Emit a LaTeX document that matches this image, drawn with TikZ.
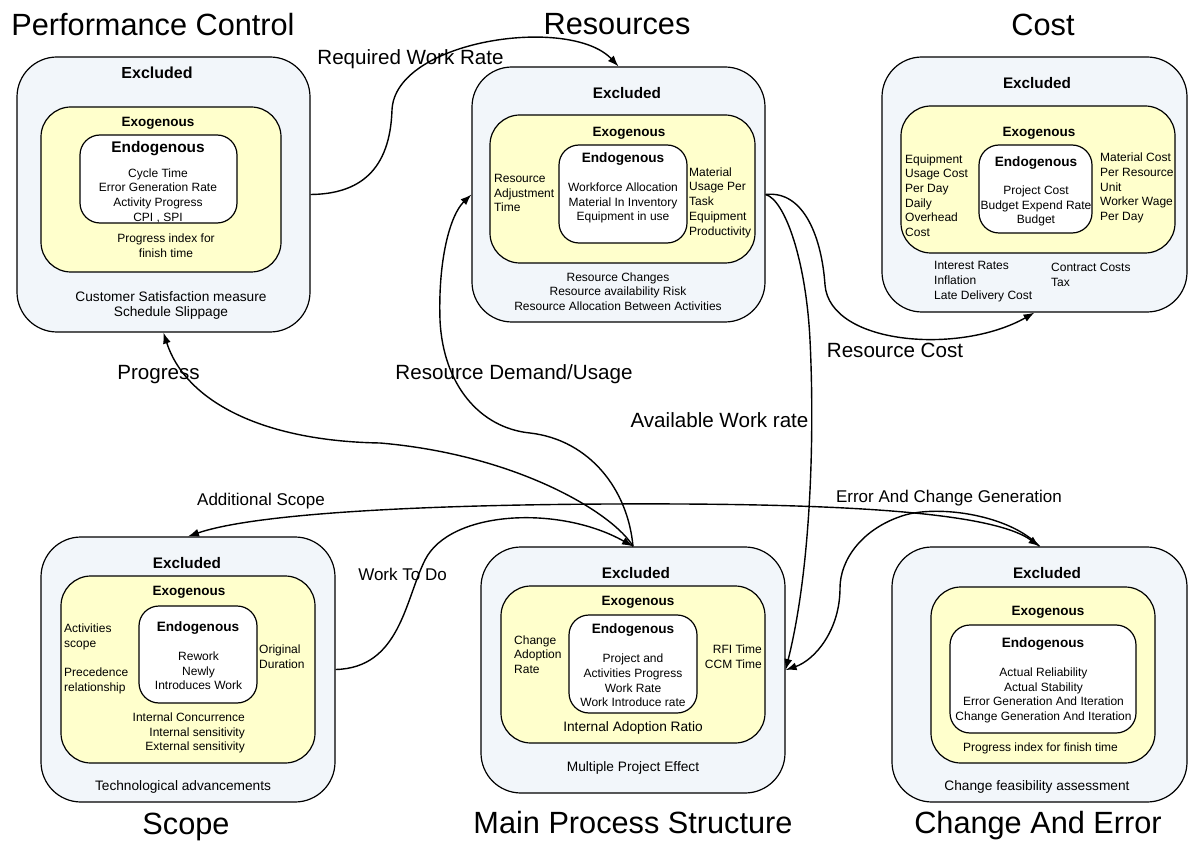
\documentclass[tikz,border=0pt]{standalone}
\usepackage{fontspec}
\setmainfont{Liberation Sans}
\usetikzlibrary{arrows.meta}
\definecolor{outerfill}{RGB}{242,246,250}
\definecolor{exofill}{RGB}{255,255,204}
\begin{document}
\begin{tikzpicture}[x=1pt,y=-1pt,
  box/.style={draw=black, line width=1.2pt, rounded corners=#1, inner sep=0pt, shape=rectangle},
  ob/.style={box=40pt, fill=outerfill},
  yb/.style={box=30pt, fill=exofill},
  wb/.style={box=20pt, fill=white},
  ttl/.style={font=\fontsize{30.7}{36}\selectfont, inner sep=0pt, text height=22pt, text depth=0pt},
  exc/.style={font=\fontsize{15.3}{18}\selectfont\bfseries, inner sep=0pt, text height=11pt, text depth=0pt},
  exo/.style={font=\fontsize{13.5}{16}\selectfont\bfseries, inner sep=0pt, text height=9.7pt, text depth=0pt},
  endo/.style={font=\fontsize{13.6}{16}\selectfont\bfseries, inner sep=0pt, text height=9.75pt, text depth=0pt},
  tx/.style={font=\fontsize{12}{14.7}\selectfont, align=center, inner sep=0pt},
  txl/.style={font=\fontsize{12}{14.7}\selectfont, align=left, anchor=west, inner sep=0pt},
  txr/.style={font=\fontsize{12}{14.7}\selectfont, align=right, anchor=east, inner sep=0pt},
  txb/.style={font=\fontsize{13.7}{15}\selectfont, align=center, inner sep=0pt},
  lbl/.style={font=\fontsize{20.6}{24}\selectfont, inner sep=0pt, text height=14.75pt, text depth=0pt},
  slbl/.style={font=\fontsize{17}{20}\selectfont, inner sep=0pt, text height=12.2pt, text depth=0pt},
  conn/.style={line width=1.4pt, -{Latex[length=11pt,width=8pt]}},
  conn2/.style={line width=1.4pt, {Latex[length=11pt,width=8pt]}-{Latex[length=11pt,width=8pt]}}
]
\useasboundingbox (0,0) rectangle (1189,842);
\fill[white] (0,0) rectangle (1189,842);

% ---------------- Performance Control
\node[ob, minimum width=293pt, minimum height=275pt] (pc) at (163.5,194.5) {};
\node[yb, minimum width=240pt, minimum height=165pt] (pcy) at (161,189.5) {};
\node[wb, minimum width=157pt, minimum height=88pt] (pcw) at (158.5,179) {};
\node[ttl] (pcT) at (153,25) {Performance Control};
\node[exc, font=\fontsize{16}{19}\selectfont\bfseries] (pcX) at (157,73) {Excluded};
\node[exo] (pcE) at (158,122) {Exogenous};
\node[endo, font=\fontsize{15.4}{18}\selectfont\bfseries, text height=11pt] (pcN) at (158,147) {Endogenous};
\node[tx] (pcN1) at (158,195.5) {Cycle Time\\Error Generation Rate\\Activity Progress\\CPI , SPI};
\node[tx] (pcE1) at (166,245.5) {Progress index for\\finish time};
\node[txb] (pcX1) at (171,305) {Customer Satisfaction measure\\Schedule Slippage};

% ---------------- Resources
\node[ob, minimum width=293pt, minimum height=255pt] (res) at (618.5,194.5) {};
\node[yb, minimum width=265pt, minimum height=148pt] (resy) at (622.5,189) {};
\node[wb, minimum width=128pt, minimum height=98pt] (resw) at (623,194) {};
\node[ttl] (resT) at (617,24) {Resources};
\node[exc] (resX) at (627,93) {Excluded};
\node[exo] (resE) at (629,132) {Exogenous};
\node[endo] (resN) at (623,158) {Endogenous};
\node[tx] (resN1) at (623,203) {Workforce Allocation\\Material In Inventory\\Equipment in use};
\node[txl] (resE1) at (494,193) {Resource\\Adjustment\\Time};
\node[txl] (resE2) at (689,202.5) {Material\\Usage Per\\Task\\Equipment\\Productivity};
\node[tx] (resX1) at (618,291.5) {Resource Changes\\Resource availability Risk\\Resource Allocation Between Activities};

% ---------------- Cost
\node[ob, minimum width=305pt, minimum height=255pt] (cost) at (1034.5,184.5) {};
\node[yb, minimum width=274pt, minimum height=147pt] (costy) at (1038,179.5) {};
\node[wb, minimum width=113pt, minimum height=88pt] (costw) at (1035.5,189) {};
\node[ttl] (costT) at (1043,25) {Cost};
\node[exc] (costX) at (1037,83) {Excluded};
\node[exo] (costE) at (1039,132) {Exogenous};
\node[endo] (costN) at (1036,162) {Endogenous};
\node[tx] (costN1) at (1036,206) {Project Cost\\Budget Expend Rate\\Budget};
\node[txl] (costE1) at (905,195.5) {Equipment\\Usage Cost\\Per Day\\Daily\\Overhead\\Cost};
\node[txl] (costE2) at (1100,188) {Material Cost\\Per Resource\\Unit\\Worker Wage\\Per Day};
\node[txl] (costX1) at (934,281.5) {Interest Rates\\Inflation\\Late Delivery Cost};
\node[txl] (costX2) at (1051,275) {Contract Costs\\Tax};

% ---------------- Scope
\node[ob, minimum width=294pt, minimum height=265pt] (scope) at (188,669.5) {};
\node[yb, minimum width=254pt, minimum height=187pt] (scopey) at (188,669.5) {};
\node[wb, minimum width=118pt, minimum height=97pt] (scopew) at (198,654.5) {};
\node[ttl] (scopeT) at (186,823) {Scope};
\node[exc] (scopeX) at (187,563) {Excluded};
\node[exo] (scopeE) at (189,591) {Exogenous};
\node[endo] (scopeN) at (198,627) {Endogenous};
\node[tx] (scopeN1) at (198.5,671) {Rework\\Newly\\Introduces Work};
\node[txl] (scopeE1) at (64,637) {Activities\\scope};
\node[txl] (scopeE2) at (64,681) {Precedence\\relationship};
\node[txl] (scopeE3) at (259,657) {Original\\Duration};
\node[txr] (scopeE4) at (245,733) {Internal Concurrence\\Internal sensitivity\\External sensitivity};
\node[txb] (scopeX1) at (183,787) {Technological advancements};

% ---------------- Main Process Structure
\node[ob, minimum width=304pt, minimum height=246pt] (main) at (633,670) {};
\node[yb, minimum width=264pt, minimum height=157pt] (mainy) at (633,664.5) {};
\node[wb, minimum width=128pt, minimum height=98pt] (mainw) at (633,664) {};
\node[ttl] (mainT) at (633,822) {Main Process Structure};
\node[exc] (mainX) at (636,573) {Excluded};
\node[exo] (mainE) at (638,601) {Exogenous};
\node[endo] (mainN) at (633,629) {Endogenous};
\node[tx] (mainN1) at (633,680.5) {Project and\\Activities Progress\\Work Rate\\Work Introduce rate};
\node[txl] (mainE1) at (514,654.5) {Change\\Adoption\\Rate};
\node[txr] (mainE2) at (762,657) {RFI Time\\CCM Time};
\node[txb] (mainE3) at (633,728) {Internal Adoption Ratio};
\node[txb] (mainX1) at (633,768) {Multiple Project Effect};

% ---------------- Change And Error
\node[ob, minimum width=295pt, minimum height=255pt] (ce) at (1039.5,674.5) {};
\node[yb, minimum width=224pt, minimum height=176pt] (cey) at (1043,675) {};
\node[wb, minimum width=186pt, minimum height=108pt] (cew) at (1043,679) {};
\node[ttl] (ceT) at (1038,822) {Change And Error};
\node[exc] (ceX) at (1047,573) {Excluded};
\node[exo] (ceE) at (1048,611) {Exogenous};
\node[endo] (ceN) at (1043,643) {Endogenous};
\node[tx] (ceN1) at (1043.5,695.5) {Actual Reliability\\Actual Stability\\Error Generation And Iteration\\Change Generation And Iteration};
\node[tx] (ceE1) at (1040.5,748) {Progress index for finish time};
\node[txb] (ceX1) at (1037,787) {Change feasibility assessment};

% ---------------- Connectors
\draw[conn] (pc.east) .. controls (360,194) and (390,170) .. (392,110)
  .. controls (395,40) and (570,15) .. (res.north);
\draw[conn] (main.north) .. controls (628,490) and (590,440) .. (530,433)
  .. controls (480,428) and (443,385) .. (440,320)
  .. controls (438,260) and (450,215) .. (res.west);
\draw[conn] (main.north) .. controls (615,515) and (520,455) .. (380,443)
  .. controls (260,441) and (185,400) .. (pc.south);
\draw[conn] (scope.east) .. controls (400,668) and (405,600) .. (425,560)
  .. controls (450,510) and (560,505) .. (main.north);
\draw[conn2] (scope.north) .. controls (250,515) and (400,505) .. (610,504)
  .. controls (820,503) and (990,510) .. (ce.north);
\draw[conn] (ce.north) .. controls (1010,515) and (940,505) .. (905,515)
  .. controls (862,528) and (840,560) .. (840,588)
  .. controls (840,630) and (815,660) .. (main.east);
\draw[conn] (res.east) .. controls (785,200) and (806,260) .. (810,340)
  .. controls (814,420) and (813,560) .. (main.east);
\draw[conn] (res.east) .. controls (805,190) and (822,240) .. (825,285)
  .. controls (830,345) and (960,355) .. (cost.south);

% ---------------- Connector labels
\node[lbl] (lRWR) at (410.5,57) {Required Work Rate};
\node[lbl] (lRC) at (895,350) {Resource Cost};
\node[lbl] (lPr) at (158.5,372) {Progress};
\node[lbl] (lRDU) at (514,372) {Resource Demand/Usage};
\node[lbl] (lAWR) at (719.5,420) {Available Work rate};
\node[slbl] (lAS) at (261,499) {Additional Scope};
\node[slbl] (lWTD) at (402.5,574) {Work To Do};
\node[slbl] (lECG) at (949,496) {Error And Change Generation};
\end{tikzpicture}
\end{document}
